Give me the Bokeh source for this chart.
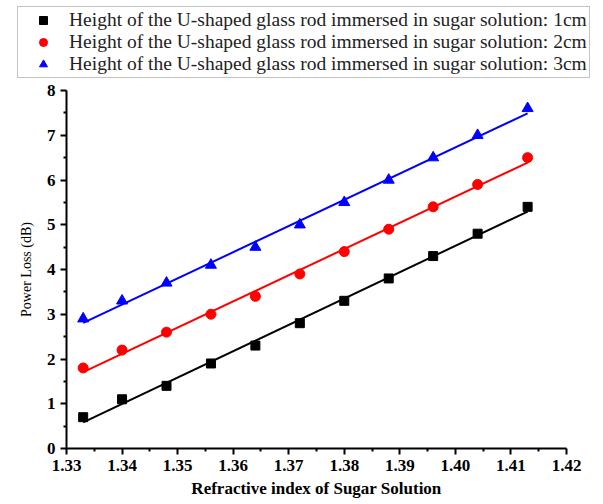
import numpy as np
from bokeh.plotting import figure
from bokeh.models import Legend, LegendItem, FixedTicker, Range1d
from bokeh.embed import file_html
from bokeh.resources import INLINE

ri = [1.333, 1.340, 1.348, 1.356, 1.364, 1.372, 1.380, 1.388, 1.396, 1.404, 1.413]
loss_1cm = [0.7, 1.1, 1.4, 1.9, 2.3, 2.8, 3.3, 3.8, 4.3, 4.8, 5.4]
loss_2cm = [1.8, 2.2, 2.6, 3.0, 3.4, 3.9, 4.4, 4.9, 5.4, 5.9, 6.5]
loss_3cm = [2.9, 3.3, 3.7, 4.1, 4.5, 5.0, 5.5, 6.0, 6.5, 7.0, 7.6]
labels = [
    "Height of the U-shaped glass rod immersed in sugar solution: 1cm",
    "Height of the U-shaped glass rod immersed in sugar solution: 2cm",
    "Height of the U-shaped glass rod immersed in sugar solution: 3cm",
]
x_ticks = [1.33, 1.34, 1.35, 1.36, 1.37, 1.38, 1.39, 1.40, 1.41, 1.42]
y_ticks = [0, 1, 2, 3, 4, 5, 6, 7, 8]

FONT = "Liberation Serif"
series = [(loss_1cm, "black", "square", 9), (loss_2cm, "red", "circle", 10), (loss_3cm, "blue", "triangle", 11)]

# Legend strip: a separate root figure whose frame spans the full width
lg = figure(width=600, height=82, output_backend="svg", toolbar_location=None,
            x_range=Range1d(0, 1), y_range=Range1d(0, 1),
            min_border=0, x_axis_location=None, y_axis_location=None)
lg.outline_line_color = None
lg.grid.visible = False

p = figure(width=600, height=418, output_backend="svg", toolbar_location=None,
           x_range=Range1d(1.33, 1.42), y_range=Range1d(0, 8),
           min_border_left=66, min_border_right=34, min_border_bottom=48, min_border_top=8)
p.outline_line_color = None
p.grid.visible = False

items = []
for (ys, col, mk, sz), lab in zip(series, labels):
    k, b = np.polyfit(ri, ys, 1)
    xs = np.array([ri[0], ri[-1]])
    p.line(xs, k * xs + b, line_color=col, line_width=2)
    p.scatter(ri, ys, marker=mk, size=sz, fill_color=col, line_color=col)
    r = lg.scatter(ri, ys, marker=mk, size=sz, fill_color=col, line_color=col)
    items.append(LegendItem(label=lab, renderers=[r]))

legend = Legend(items=items, location=(17, 4), orientation="vertical",
                label_text_font=FONT, label_text_font_size="19.5px", label_text_color="#222222",
                border_line_color="#888888", border_line_width=1,
                padding=2, spacing=0, margin=0, label_height=20, glyph_height=20, glyph_width=46,
                label_standoff=3)
lg.add_layout(legend, "center")

for ax in (p.xaxis[0], p.yaxis[0]):
    ax.axis_line_width = 2
    ax.axis_line_color = "black"
    ax.major_tick_line_width = 2
    ax.minor_tick_line_width = 2
    ax.major_tick_out = 6
    ax.major_tick_in = 0
    ax.minor_tick_out = 3
    ax.minor_tick_in = 0
    ax.major_label_text_font = FONT
    ax.major_label_text_font_style = "bold"
    ax.major_label_text_font_size = "17px"
    ax.major_label_text_color = "black"

p.xaxis.ticker = FixedTicker(ticks=x_ticks, minor_ticks=[x + 0.005 for x in x_ticks[:-1]])
p.yaxis.ticker = FixedTicker(ticks=y_ticks, minor_ticks=[y + 0.5 for y in y_ticks[:-1]])
p.xaxis.major_label_overrides = {t: f"{t:.2f}" for t in x_ticks}
p.xaxis.axis_label = "Refractive index of Sugar Solution"
p.xaxis.axis_label_text_font = FONT
p.xaxis.axis_label_text_font_style = "bold"
p.xaxis.axis_label_text_font_size = "17px"
p.xaxis.axis_label_text_color = "black"
p.xaxis.axis_label_standoff = 5
p.yaxis.axis_label = "Power Loss (dB)"
p.yaxis.axis_label_text_font = FONT
p.yaxis.axis_label_text_font_style = "normal"
p.yaxis.axis_label_text_font_size = "14px"
p.yaxis.axis_label_text_color = "black"
p.yaxis.axis_label_standoff = 10

open("out.html", "w").write(file_html([lg, p], INLINE))
